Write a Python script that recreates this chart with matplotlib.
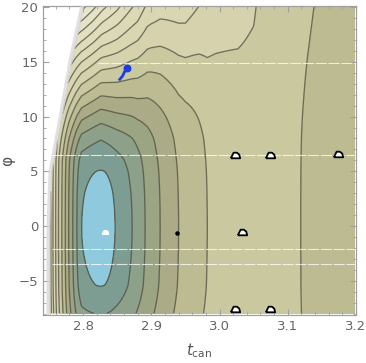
import numpy as np
import matplotlib.pyplot as plt
from matplotlib.ticker import MultipleLocator

# DATOS LEIDOS DE LA FIGURA
# nivel sobre la fila phi ~ 0 (cruces de los contornos)
t_cross = [2.735, 2.753, 2.756, 2.760, 2.764, 2.769, 2.774, 2.779, 2.785, 2.791, 2.798,
           2.826, 2.847, 2.872, 2.891, 2.913, 2.940, 2.982, 3.050, 3.119, 3.205]
u_level = [13, 10, 9, 8, 7, 6, 5, 4, 3, 2, 1,
           0, 1, 2, 3, 4, 5, 6, 6.6, 6, 5.4]

# nivel sobre la fila superior phi = 20
t_top = [2.735, 2.800, 2.815, 2.829, 2.850, 2.869, 2.894, 2.913, 2.940, 2.982, 3.050, 3.119, 3.205]
u_top = [15, 11.4, 10.2, 8.9, 7.5, 5.9, 4.0, 4.0, 5, 6, 6.6, 6, 5.4]

# cruces de los niveles sobre la columna central
phi_cross = [-10.2, -7.9, -5.4, -3.0, -0.2, 3.0, 5.0, 8.0, 9.9, 11.6, 13.4, 15.2, 16.8, 18.6, 20.6]
v_level = [3, 2, 1, 0.55, 0, 0.55, 1, 2, 3, 4, 5, 6, 7, 8, 9]

# peso de phi segun t (las curvas se hacen verticales a la derecha)
t_weight = [2.735, 2.88, 2.90, 2.93, 2.95, 2.97, 2.994, 3.027, 3.055, 3.12, 3.205]
weight = [1.0, 0.95, 0.88, 0.81, 0.76, 0.64, 0.54, 0.43, 0.27, 0.15, 0.13]

# borde de la zona blanca (sin datos)
edge_phi = [-8.5, 0.0, 5.0, 10.0, 15.0, 20.5]
edge_t = [2.751, 2.751, 2.754, 2.769, 2.783, 2.802]

levels = list(range(0, 17))
band_colors = ['#8ec9dd', '#7e9d92', '#8da089', '#9ba583', '#abab88', '#bcbb92',
               '#cac89f', '#d5d2ad', '#d9d6b2', '#dcd9b7', '#dfdcbc', '#e2e0c1',
               '#e5e3c6', '#e8e6cb', '#eae8cf', '#ecebd3']

# costuras blancas horizontales
seam_phi = [14.9, 6.5, -2.08, -3.45]
seam_t0 = [2.822, 2.755, 2.755, 2.755]

# marcadores
path_t = [2.854, 2.858, 2.861, 2.864]
path_phi = [13.4, 13.7, 14.1, 14.45]
small_t = [3.023, 3.074, 3.173, 3.033, 3.023, 3.074]
small_phi = [6.5, 6.5, 6.6, -0.56, -7.58, -7.58]
min_t, min_phi = 2.832, -0.56
dot_t, dot_phi = 2.937, -0.66

# CAMPO
t = np.linspace(2.751, 3.198, 700)
p = np.linspace(-7.95, 20.1, 700)
T, P = np.meshgrid(t, p)
a = np.clip((P - 6.0) / 14.0, 0, 1) ** 1.3
U = (1 - a) * np.interp(T, t_cross, u_level) + a * np.interp(T, t_top, u_top)
V = np.interp(P, phi_cross, v_level)
W = np.interp(T, t_weight, weight)
F = np.hypot(U, W * V)
ED = np.interp(P, edge_phi, edge_t)
F = np.ma.masked_where(T < ED, F)

# FIGURA
plt.rcParams['font.family'] = 'DejaVu Sans'
fig = plt.figure(figsize=(3.66, 3.63), dpi=100)
ax = fig.add_axes([0.1175, 0.131, 0.8552, 0.8525])

ax.contourf(T, P, F, levels=levels, colors=band_colors, extend='max')
ax.contour(T, P, F, levels=levels[1:], colors='#48483a', linewidths=0.95, alpha=0.72)

# halo gris del borde
ax.plot(np.array(edge_t) - 0.0015, edge_phi, color='#d4d4d4', lw=3, alpha=0.7, zorder=3)

for ph, ts in zip(seam_phi, seam_t0):
    ax.plot([ts, 3.198], [ph, ph], color='white', lw=0.8, alpha=0.75,
            ls=(0, (10, 1.5)), zorder=4)

quad = [(-1, -0.6), (1, -0.6), (0.8, 0.2), (0.3, 0.6), (-0.4, 0.6), (-1, -0.6)]
ax.scatter(small_t, small_phi, marker=quad, s=45, facecolor='white',
           edgecolor='black', linewidths=1.3, zorder=5)
ax.scatter([min_t], [min_phi], marker=quad, s=20, facecolor='white',
           edgecolor='white', zorder=5)
ax.scatter([dot_t], [dot_phi], s=5, color='black', zorder=5)

ax.plot(path_t, path_phi, color='#1a3de6', lw=2, zorder=6)
ax.scatter([path_t[-1]], [path_phi[-1]], s=22, color='#1a3de6', zorder=6)

ax.set_xlim(2.7414, 3.2)
ax.set_ylim(-8.15, 20.09)
ax.set_xticks([2.8, 2.9, 3.0, 3.1, 3.2])
ax.set_yticks([-5, 0, 5, 10, 15, 20])
ax.set_yticklabels(['\u22125', '0', '5', '10', '15', '20'])
ax.xaxis.set_minor_locator(MultipleLocator(0.02))
ax.yaxis.set_minor_locator(MultipleLocator(1))
ax.tick_params(which='both', direction='in', top=True, right=True,
               color='#a0a0a0', labelcolor='#666666', labelsize=9.5)
ax.tick_params(which='major', length=4)
ax.tick_params(which='minor', length=2)
for s in ax.spines.values():
    s.set_color('#a0a0a0')
    s.set_linewidth(0.9)

ax.set_xlabel(r'$t_{\mathrm{can}}$', color='#555555', fontsize=11)
ax.set_ylabel('φ', color='#555555', fontsize=11)
ax.xaxis.set_label_coords(0.5, -0.082)
ax.yaxis.set_label_coords(-0.088, 0.5)

fig.savefig('out.png', dpi=100)
